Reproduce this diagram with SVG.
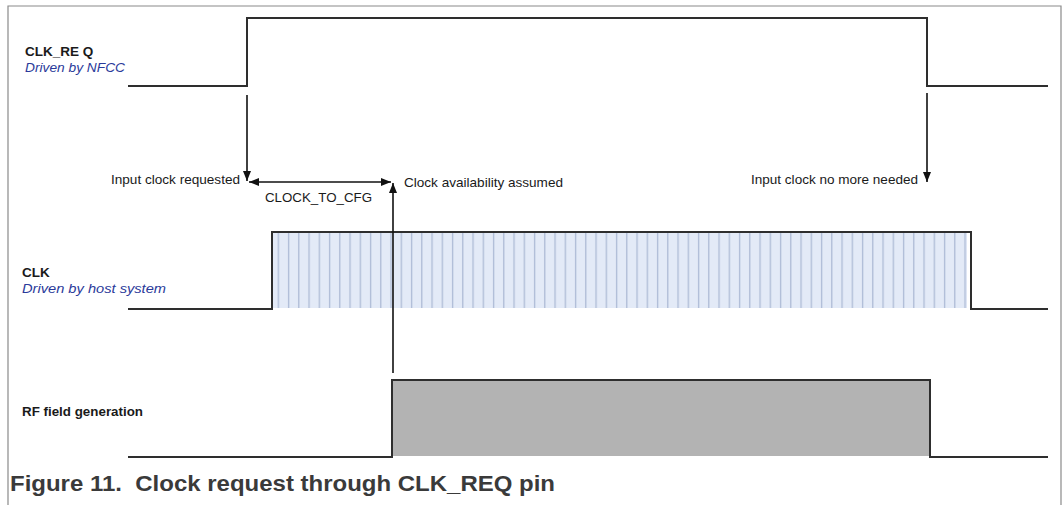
<svg xmlns="http://www.w3.org/2000/svg" width="1062" height="505" viewBox="0 0 1062 505">
  <style>
    .frame { fill: none; stroke: #8a8a8a; stroke-width: 1.2; }
    .sig { fill: none; stroke: #2e2e2e; stroke-width: 2; stroke-linejoin: miter; }
    .conn { fill: none; stroke: #111; stroke-width: 1.6; }
    .lbl { font-family: "Liberation Sans", Arial, sans-serif; font-size: 13.5px; font-weight: bold; fill: #1a1a1a; }
    .sub { font-family: "Liberation Sans", Arial, sans-serif; font-size: 13.5px; font-style: italic; fill: #2a3a9a; }
    .note { font-family: "Liberation Sans", Arial, sans-serif; font-size: 13px; fill: #1a1a1a; }
    .cap { font-family: "Liberation Sans", Arial, sans-serif; font-size: 22px; font-weight: bold; fill: #3a3a3a; }
  </style>
  <defs>
    <marker id="arr" viewBox="0 0 10 8" refX="10" refY="4" markerWidth="10" markerHeight="8" markerUnits="userSpaceOnUse" orient="auto-start-reverse">
      <path d="M0,0 L10,4 L0,8 z" fill="#111"/>
    </marker>
    <pattern id="clkTicks" patternUnits="userSpaceOnUse" x="273" y="0" width="10.25" height="505">
      <rect x="0" y="0" width="10.25" height="505" fill="#e3eaf7"/>
      <line x1="5.3" y1="0" x2="5.3" y2="505" stroke="#aebbd6" stroke-width="1.3"/>
    </pattern>
  </defs>
  <rect width="1062" height="505" fill="#ffffff"/>
  <path class="frame" d="M8,505 V6 H1061 V505"/>

  <g id="clk_req">
    <text class="lbl" x="25" y="56">CLK_RE Q</text>
    <text class="sub" x="25" y="72" textLength="100" lengthAdjust="spacingAndGlyphs">Driven by NFCC</text>
    <path class="sig" d="M128,86 H247 V18 H927 V86 H1048"/>
  </g>

  <g id="clk">
    <rect x="273" y="233" width="694" height="75" fill="url(#clkTicks)"/>
    <text class="lbl" x="22" y="277">CLK</text>
    <text class="sub" x="22" y="293" textLength="144" lengthAdjust="spacingAndGlyphs">Driven by host system</text>
    <path class="sig" d="M128,309 H272 V232 H971 V309 H1048"/>
  </g>

  <g id="rf_field">
    <rect x="392" y="381" width="538" height="75" fill="#b3b3b3"/>
    <text class="lbl" x="22" y="416" textLength="121" lengthAdjust="spacingAndGlyphs">RF field generation</text>
    <path class="sig" d="M128,457 H392 V380 H930 V457 H1048"/>
  </g>

  <g id="connectors">
    <line class="conn" x1="247" y1="95" x2="247" y2="181" marker-end="url(#arr)"/>
    <line class="conn" x1="249" y1="182" x2="391" y2="182" marker-start="url(#arr)" marker-end="url(#arr)"/>
    <line class="conn" x1="393" y1="373" x2="393" y2="183" marker-end="url(#arr)"/>
    <line class="conn" x1="927" y1="93" x2="927" y2="182" marker-end="url(#arr)"/>
  </g>

  <g id="notes">
    <text class="note" x="111" y="184" textLength="129" lengthAdjust="spacingAndGlyphs">Input clock requested</text>
    <text class="note" x="265" y="202" textLength="107" lengthAdjust="spacingAndGlyphs">CLOCK_TO_CFG</text>
    <text class="note" x="404" y="187" textLength="159" lengthAdjust="spacingAndGlyphs">Clock availability assumed</text>
    <text class="note" x="751" y="184" textLength="167" lengthAdjust="spacingAndGlyphs">Input clock no more needed</text>
  </g>

  <text class="cap" x="10" y="491" textLength="545" lengthAdjust="spacingAndGlyphs">Figure 11.&#160; Clock request through CLK_REQ pin</text>
</svg>
